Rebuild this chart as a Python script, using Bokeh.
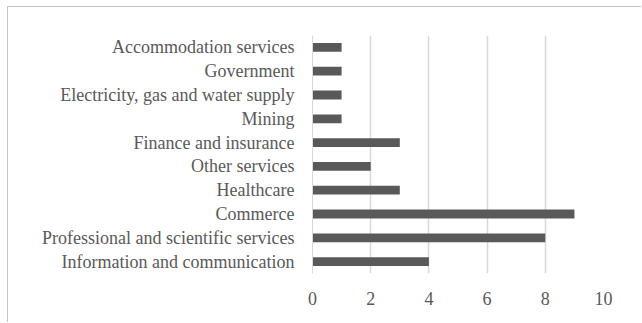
from bokeh.plotting import figure
from bokeh.models import ColumnDataSource, FactorRange, Range1d, FixedTicker
from bokeh.embed import file_html
from bokeh.resources import INLINE

# Sectors, listed from the bottom bar to the top bar
sectors = [
    "Information and communication",
    "Professional and scientific services",
    "Commerce",
    "Healthcare",
    "Other services",
    "Finance and insurance",
    "Mining",
    "Electricity, gas and water supply",
    "Government",
    "Accommodation services",
]
counts = [4, 8, 9, 3, 2, 3, 1, 1, 1, 1]
x_ticks = [0, 2, 4, 6, 8, 10]

source = ColumnDataSource(data=dict(sector=sectors, count=counts))

TEXT = "#595959"
FONT = "Liberation Serif"

p = figure(
    width=634, height=316,
    y_range=FactorRange(factors=sectors, range_padding=0),
    x_range=Range1d(0, 10),
    output_backend="svg", toolbar_location=None,
    min_border_left=304, min_border_right=39,
    min_border_top=28, min_border_bottom=50,
    styles={"position": "absolute", "left": "7px", "top": "6px",
            "border-top": "1px solid #c4c4c4", "border-left": "1px solid #c4c4c4"},
)

p.hbar(y="sector", right="count", left=0, height=0.37, source=source,
       fill_color="#595959", line_color=None)

p.outline_line_color = None
p.background_fill_color = "white"
p.border_fill_color = "white"

# Value axis
p.xaxis.ticker = FixedTicker(ticks=x_ticks)
p.xaxis.axis_line_color = None
p.xaxis.major_tick_line_color = None
p.xaxis.minor_tick_line_color = None
p.xaxis.major_label_text_font = FONT
p.xaxis.major_label_text_font_size = "18px"
p.xaxis.major_label_text_color = TEXT
p.xaxis.major_label_standoff = 12

# Category axis
p.yaxis.axis_line_color = "#d9d9d9"
p.yaxis.major_tick_line_color = None
p.yaxis.minor_tick_line_color = None
p.yaxis.major_label_text_font = FONT
p.yaxis.major_label_text_font_size = "18px"
p.yaxis.major_label_text_color = TEXT
p.yaxis.major_label_standoff = 12

p.xgrid.grid_line_color = "#d9d9d9"
p.xgrid.grid_line_width = 1.5
p.ygrid.grid_line_color = None

open("out.html", "w").write(file_html(p, INLINE))
